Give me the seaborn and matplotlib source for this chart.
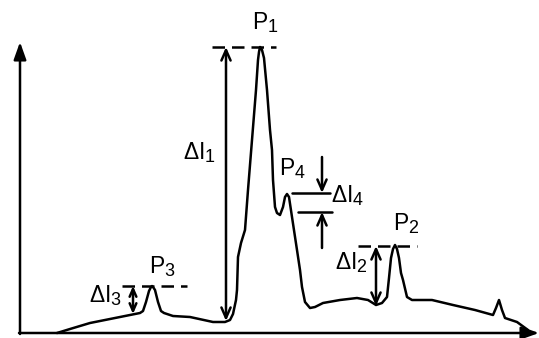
import matplotlib
matplotlib.use("Agg")
import matplotlib.pyplot as plt
import matplotlib._mathtext as _mt
import seaborn as sns
import pandas as pd

sns.set_style("white")
plt.rcParams["font.family"] = ["Liberation Sans", "DejaVu Sans"]
plt.rcParams["mathtext.fontset"] = "custom"
plt.rcParams["mathtext.rm"] = "Liberation Sans"
plt.rcParams["mathtext.it"] = "Liberation Sans"
try:
    _mt.SHRINK_FACTOR = 0.78
except Exception:
    pass

# signal curve (x position, signal height above baseline)
curve_x = [57, 70, 90, 110, 130, 140, 143, 146, 149, 151, 152, 153, 155, 158, 161, 164,
           173, 190, 213, 225, 230, 233, 236, 237, 238, 241, 245, 248, 252, 256, 258,
           259, 260, 261, 262, 264, 267, 270, 272, 273, 275, 277, 280, 283, 285, 287,
           289, 292, 297, 300, 302, 305, 310, 315, 323, 340, 357, 368, 376, 382, 387,
           389, 391, 393, 395, 397, 399, 401, 403, 407, 412, 432, 453, 475, 493, 496,
           499, 502, 505, 517, 528]
curve_y = [0, 4, 10, 14, 18, 20, 22, 31, 42, 46, 47, 46, 43, 31, 22, 20,
           17, 16, 11, 11, 13, 19, 33, 43, 76, 90, 103, 143, 193, 243, 273,
           281, 286, 285, 283, 275, 243, 203, 183, 153, 126, 120, 118, 126, 136, 139,
           136, 116, 83, 63, 46, 31, 25, 26, 30, 33, 35, 33, 28, 30, 36,
           55, 75, 84, 88, 84, 75, 60, 53, 36, 33, 33, 28, 23, 18, 25,
           33, 23, 15, 11, 3]

# peak annotations
peak_names = ["P$_1$", "P$_2$", "P$_3$", "P$_4$"]
delta_names = ["ΔI$_1$", "ΔI$_2$", "ΔI$_3$", "ΔI$_4$"]

BASE = 333
LW = 1.8

fig = plt.figure(figsize=(5.39, 3.38), dpi=100)
ax = fig.add_axes([0, 0, 1, 1])
df = pd.DataFrame({"x": curve_x, "y": curve_y})
sns.lineplot(data=df, x="x", y="y", ax=ax, color="black", lw=LW, sort=False,
             estimator=None)
ax.set_xlim(0, 539)
ax.set_ylim(-5, 333)
ax.axis("off")

def py(p):
    return BASE - p

# axes arrows
ax.annotate("", xy=(20, py(42)), xytext=(20, py(334)),
            arrowprops=dict(arrowstyle="-|>,head_length=0.7,head_width=0.25",
                            mutation_scale=15, lw=LW, color="black",
                            shrinkA=0, shrinkB=0))
ax.annotate("", xy=(539, py(333)), xytext=(19, py(333)),
            arrowprops=dict(arrowstyle="-|>,head_length=0.7,head_width=0.25",
                            mutation_scale=15, lw=LW, color="black",
                            shrinkA=0, shrinkB=0))

dash = (0, (5.0, 2.8))
# dashed peak levels
ax.plot([212, 276], [py(47), py(47)], color="black", lw=LW, linestyle=dash)
ax.plot([122, 187], [py(286), py(286)], color="black", lw=LW, linestyle=dash)
ax.plot([358, 417], [py(246), py(246)], color="black", lw=LW, linestyle=dash)
# P4 solid levels
ax.plot([292, 330], [py(193), py(193)], color="black", lw=LW)
ax.plot([298, 332], [py(212), py(212)], color="black", lw=LW)

def darrow(x, y0, y1, scale=15):
    ax.annotate("", xy=(x, py(y1)), xytext=(x, py(y0)),
                arrowprops=dict(arrowstyle="<->,head_length=0.5,head_width=0.22",
                                mutation_scale=scale, lw=LW, color="black",
                                shrinkA=0, shrinkB=0))

def sarrow(x, y0, y1):
    ax.annotate("", xy=(x, py(y1)), xytext=(x, py(y0)),
                arrowprops=dict(arrowstyle="->,head_length=0.5,head_width=0.22",
                                mutation_scale=15, lw=LW, color="black",
                                shrinkA=0, shrinkB=0))

darrow(226, 47, 321)
darrow(376, 246, 306)
darrow(133, 286, 314, scale=11)
sarrow(322, 157, 193)
sarrow(322, 248, 212)

FS = 16.5
txt = dict(fontsize=FS, ha="center", va="center", color="black")
ax.text(265, py(23), peak_names[0], **txt)
ax.text(406, py(224), peak_names[1], **txt)
ax.text(162, py(267), peak_names[2], **txt)
ax.text(292, py(169), peak_names[3], **txt)
ax.text(200, py(153), delta_names[0], **txt)
ax.text(351, py(263), delta_names[1], **txt)
ax.text(106, py(296), delta_names[2], **txt)
ax.text(348, py(196), delta_names[3], **txt)

fig.savefig("out.png", dpi=100)
